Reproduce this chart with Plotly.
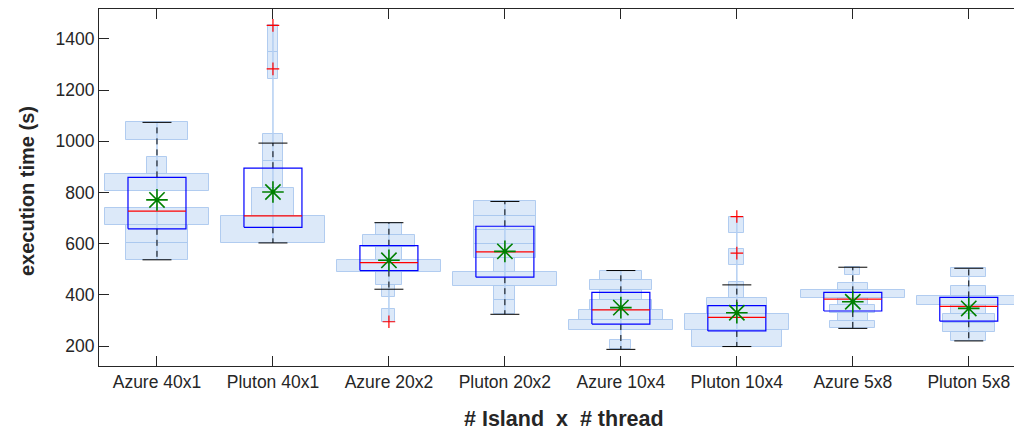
import numpy as np
import plotly.graph_objects as go

# ---------------- data ----------------
categories = ["Azure 40x1", "Pluton 40x1", "Azure 20x2", "Pluton 20x2",
              "Azure 10x4", "Pluton 10x4", "Azure 5x8", "Pluton 5x8"]
q1 = [658, 664, 495, 469, 286, 259, 337, 297]
median = [727, 709, 526, 568, 341, 312, 383, 355]
q3 = [859, 895, 592, 668, 410, 358, 410, 390]
whisker_low = [537, 603, 422, 324, 187, 198, 269, 220]
whisker_high = [1074, 993, 682, 765, 495, 439, 508, 504]
means = [771, 802, 535, 570, 350, 330, 373, 347]
outlier_group = [1, 1, 2, 5, 5]
outlier_value = [1453, 1283, 295, 706, 563]
hist_min = [537, 603, 295, 324, 187, 198, 269, 220]
hist_max = [1074, 1456, 682, 765, 495, 706, 508, 504]
hist_counts = [
    [3, 3, 5, 0, 5, 1, 0, 3],
    [10, 4, 2, 2, 0, 0, 1, 1],
    [1, 0, 1, 2, 8, 2, 4, 2],
    [1, 1, 5, 1, 3, 3, 3, 3],
    [1, 0, 5, 4, 3, 2, 3, 2],
    [6, 7, 4, 1, 0, 1, 0, 1],
    [3, 2, 3, 2, 7, 2, 0, 1],
    [2, 3, 3, 2, 6, 2, 0, 2],
]

# ---------------- styling ----------------
AXC = "#262626"
FONT = "Liberation Sans, Arial, Helvetica, sans-serif"
BOX_W = 0.5
CAP_W = 0.25
HIST_MAX_W = 0.9

pos = np.arange(1, len(categories) + 1)

fig = go.Figure()

# histogram bins (light blue rectangles)
bx, bbase, bh, bw = [], [], [], []
for i, counts in enumerate(hist_counts):
    edges = np.linspace(hist_min[i], hist_max[i], len(counts) + 1)
    scale = HIST_MAX_W / max(counts)
    for k, c in enumerate(counts):
        if c == 0:
            continue
        bx.append(pos[i])
        bbase.append(edges[k])
        bh.append(edges[k + 1] - edges[k])
        bw.append(c * scale)
fig.add_trace(go.Bar(x=bx, y=bh, base=bbase, width=bw,
                     marker=dict(color="rgba(205,224,246,0.7)",
                                 line=dict(color="rgba(170,200,238,0.9)", width=1)),
                     hoverinfo="skip", showlegend=False))

# light blue centre line spanning all data
cx, cy = [], []
for i in range(len(pos)):
    cx += [pos[i], pos[i], None]
    cy += [hist_min[i], hist_max[i], None]
fig.add_trace(go.Scatter(x=cx, y=cy, mode="lines",
                         line=dict(color="#b3cff2", width=1.5),
                         hoverinfo="skip", showlegend=False))

# whiskers (dashed black)
wx, wy = [], []
for i in range(len(pos)):
    wx += [pos[i], pos[i], None, pos[i], pos[i], None]
    wy += [q3[i], whisker_high[i], None, q1[i], whisker_low[i], None]
fig.add_trace(go.Scatter(x=wx, y=wy, mode="lines",
                         line=dict(color="black", width=1, dash="6px,5px"),
                         hoverinfo="skip", showlegend=False))

# caps
kx, ky = [], []
for i in range(len(pos)):
    for v in (whisker_high[i], whisker_low[i]):
        kx += [pos[i] - CAP_W / 2, pos[i] + CAP_W / 2, None]
        ky += [v, v, None]
fig.add_trace(go.Scatter(x=kx, y=ky, mode="lines",
                         line=dict(color="black", width=1),
                         hoverinfo="skip", showlegend=False))

# boxes
ox, oy = [], []
for i in range(len(pos)):
    l, r = pos[i] - BOX_W / 2, pos[i] + BOX_W / 2
    ox += [l, r, r, l, l, None]
    oy += [q1[i], q1[i], q3[i], q3[i], q1[i], None]
fig.add_trace(go.Scatter(x=ox, y=oy, mode="lines",
                         line=dict(color="#0000ff", width=1.2),
                         hoverinfo="skip", showlegend=False))

# medians
mx, my = [], []
for i in range(len(pos)):
    mx += [pos[i] - BOX_W / 2, pos[i] + BOX_W / 2, None]
    my += [median[i], median[i], None]
fig.add_trace(go.Scatter(x=mx, y=my, mode="lines",
                         line=dict(color="#ff0000", width=1.2),
                         hoverinfo="skip", showlegend=False))

# means
fig.add_trace(go.Scatter(x=pos, y=means, mode="markers",
                         marker=dict(symbol="asterisk-open", size=18, color="#008000",
                                     line=dict(color="#008000", width=1.6)),
                         hoverinfo="skip", showlegend=False))

# outliers
fig.add_trace(go.Scatter(x=[pos[g] for g in outlier_group], y=outlier_value,
                         mode="markers",
                         marker=dict(symbol="cross-thin-open", size=9, color="#ff0000",
                                     line=dict(color="#ff0000", width=1.2)),
                         hoverinfo="skip", showlegend=False))

fig.update_layout(
    width=1014, height=430,
    margin=dict(l=99, r=0, t=9, b=64, autoexpand=False),
    paper_bgcolor="white", plot_bgcolor="white",
    barmode="overlay", bargap=0,
    font=dict(family=FONT, size=18, color=AXC),
    showlegend=False,
    xaxis=dict(range=[0.5, 8.39], tickmode="array", tickvals=list(pos),
               ticktext=categories, ticks="inside", ticklen=10, tickwidth=1,
               tickcolor=AXC, showline=True, linecolor=AXC, linewidth=1,
               mirror="ticks", showgrid=False, zeroline=False, automargin=False,
               tickfont=dict(family=FONT, size=17.5, color=AXC)),
    yaxis=dict(range=[122, 1517], tickmode="array",
               tickvals=[200, 400, 600, 800, 1000, 1200, 1400],
               ticks="inside", ticklen=10, tickwidth=1, tickcolor=AXC,
               showline=True, linecolor=AXC, linewidth=1, mirror=False,
               showgrid=False, zeroline=False, automargin=False,
               tickfont=dict(family=FONT, size=17.5, color=AXC)),
    annotations=[
        dict(text="<b># Island\u00a0\u00a0x\u00a0\u00a0# thread</b>", xref="paper", yref="paper",
             x=0.508, y=-0.148, showarrow=False, xanchor="center", yanchor="middle",
             font=dict(family=FONT, size=21.5, color=AXC)),
        dict(text="<b>execution time (s)</b>", xref="paper", yref="paper",
             x=-0.0787, y=0.49, showarrow=False, xanchor="center", yanchor="middle",
             textangle=-90, font=dict(family=FONT, size=20, color=AXC)),
    ],
)

fig.write_html("out.html", config={"displayModeBar": False},
               post_script="document.body.style.margin='0px';document.body.style.overflow='hidden';")
